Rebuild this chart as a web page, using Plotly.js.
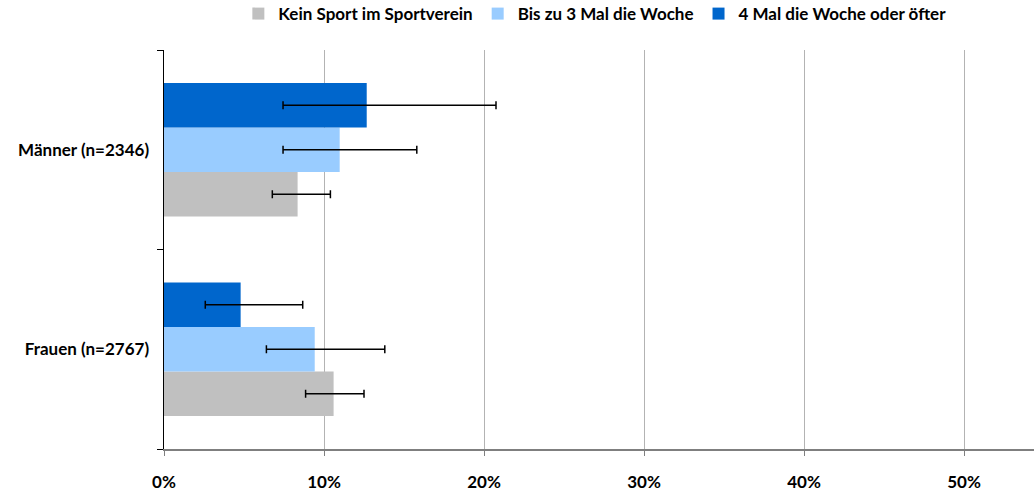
<!DOCTYPE html>
<html>
<head>
<meta charset="utf-8">
<script src="https://cdn.plot.ly/plotly-3.0.1.min.js"></script>
<style>html,body{margin:0;padding:0;background:#fff;}#chart{width:1034px;height:492px;}</style>
</head>
<body>
<div id="chart"></div>
<script>
// Categories (bottom to top as Plotly draws them)
const categories = ["Frauen (n=2767)", "Männer (n=2346)"];
const seriesNames = ["Kein Sport im Sportverein", "Bis zu 3 Mal die Woche", "4 Mal die Woche oder öfter"];
const seriesColors = ["#C0C0C0", "#99CCFF", "#0066CC"];

// Values in percent, per category [Frauen, Männer]
const keinSport     = [10.6, 8.35];
const bisZu3        = [9.42, 10.98];
const vierMal       = [4.79, 12.67];

// Confidence interval bounds [Frauen, Männer]
const keinSportLow  = [8.85, 6.77];
const keinSportHigh = [12.5, 10.4];
const bisZu3Low     = [6.4, 7.44];
const bisZu3High    = [13.8, 15.8];
const vierMalLow    = [2.58, 7.44];
const vierMalHigh   = [8.67, 20.75];

const xTickVals = [0, 10, 20, 30, 40, 50];
const xTickText = ["0%", "10%", "20%", "30%", "40%", "50%"];

const values = [keinSport, bisZu3, vierMal];
const lows = [keinSportLow, bisZu3Low, vierMalLow];
const highs = [keinSportHigh, bisZu3High, vierMalHigh];

const FONT = "Lato, 'Open Sans', sans-serif";

const traces = values.map((v, i) => ({
  type: "bar",
  orientation: "h",
  name: seriesNames[i],
  y: categories,
  x: v,
  marker: {color: seriesColors[i], line: {width: 0}},
  error_x: {
    type: "data",
    symmetric: false,
    array: highs[i].map((h, k) => h - v[k]),
    arrayminus: v.map((val, k) => val - lows[i][k]),
    color: "#000000",
    thickness: 1.5,
    width: 4
  },
  hoverinfo: "x+name"
}));

const layout = {
  width: 1034,
  height: 492,
  margin: {l: 164, r: 0, t: 50, b: 43, autoexpand: false},
  paper_bgcolor: "#ffffff",
  plot_bgcolor: "#ffffff",
  barmode: "group",
  bargap: 0.33,
  bargroupgap: 0,
  font: {family: FONT, size: 17, color: "#000000"},
  showlegend: true,
  legend: {
    orientation: "h",
    x: 0.905, xanchor: "right",
    y: 1.045, yanchor: "bottom",
    traceorder: "normal",
    font: {family: FONT, size: 17, color: "#000000", weight: "bold"},
    itemwidth: 30,
    tracegroupgap: 0
  },
  xaxis: {
    range: [0, 54.375],
    tickvals: xTickVals,
    ticktext: xTickText,
    showgrid: true,
    gridcolor: "#b3b3b3",
    gridwidth: 1,
    zeroline: false,
    showline: true,
    linecolor: "#7f7f7f",
    linewidth: 2,
    ticks: "outside",
    ticklen: 5,
    tickcolor: "#7f7f7f",
    tickwidth: 1,
    ticklabelstandoff: 12,
    tickfont: {family: FONT, size: 17, color: "#000000", weight: "bold"},
    fixedrange: true
  },
  yaxis: {
    type: "category",
    categoryorder: "array",
    categoryarray: categories,
    showgrid: false,
    zeroline: false,
    showline: true,
    linecolor: "#000000",
    linewidth: 1.5,
    ticks: "outside",
    tickson: "boundaries",
    ticklen: 6,
    tickcolor: "#000000",
    tickwidth: 1,
    ticklabelstandoff: 10,
    tickfont: {family: FONT, size: 17, color: "#000000", weight: "bold"},
    fixedrange: true
  }
};

Plotly.newPlot("chart", traces, layout, {displayModeBar: false, staticPlot: true});
</script>
</body>
</html>
